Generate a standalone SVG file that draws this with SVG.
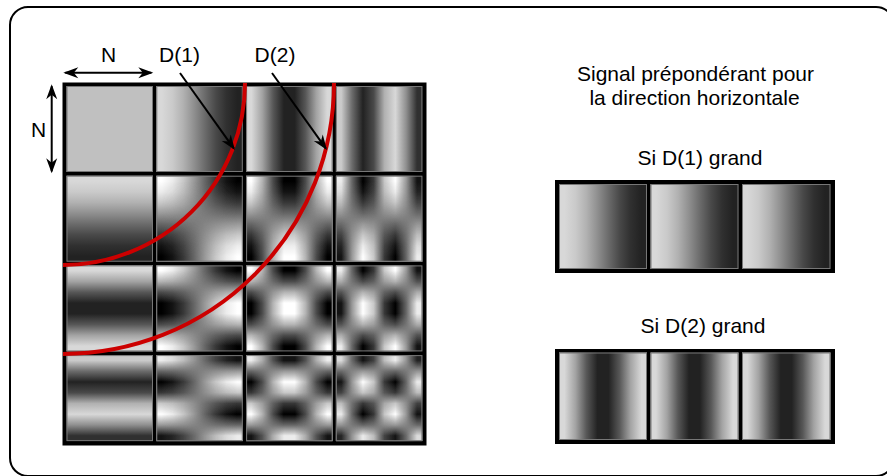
<svg xmlns="http://www.w3.org/2000/svg" width="887" height="476" viewBox="0 0 887 476">
<style>
text{font-family:"Liberation Sans",Arial,sans-serif;font-size:21px;fill:#000}
.lbl{text-anchor:middle}
.bg{fill:#000}
.rim{fill:none;stroke:#777;stroke-width:1}
.ex{mix-blend-mode:exclusion}
.iso{isolation:isolate}
.arc{fill:none;stroke:#cc0000;stroke-width:4}
.arr{fill:none;stroke:#000;stroke-width:2}
</style>
<defs>
<marker id="ah" markerUnits="userSpaceOnUse" viewBox="-16 -6 17 12" refX="-2" refY="0" markerWidth="17" markerHeight="12" orient="auto-start-reverse">
<path d="M0,0 L-15,-5.5 L-10.5,0 L-15,5.5 Z" fill="#000"/>
</marker>
<linearGradient id="h1" x1="0" y1="0" x2="1" y2="0">
<stop offset="0.0625" stop-color="rgb(216,216,216)"/><stop offset="0.1875" stop-color="rgb(202,202,202)"/><stop offset="0.3125" stop-color="rgb(177,177,177)"/><stop offset="0.4375" stop-color="rgb(143,143,143)"/><stop offset="0.5625" stop-color="rgb(107,107,107)"/><stop offset="0.6875" stop-color="rgb(73,73,73)"/><stop offset="0.8125" stop-color="rgb(48,48,48)"/><stop offset="0.9375" stop-color="rgb(34,34,34)"/>
</linearGradient>
<linearGradient id="h2" x1="0" y1="0" x2="1" y2="0">
<stop offset="0.0625" stop-color="rgb(216,216,216)"/><stop offset="0.1875" stop-color="rgb(163,163,163)"/><stop offset="0.3125" stop-color="rgb(87,87,87)"/><stop offset="0.4375" stop-color="rgb(34,34,34)"/><stop offset="0.5625" stop-color="rgb(34,34,34)"/><stop offset="0.6875" stop-color="rgb(87,87,87)"/><stop offset="0.8125" stop-color="rgb(163,163,163)"/><stop offset="0.9375" stop-color="rgb(216,216,216)"/>
</linearGradient>
<linearGradient id="h3" x1="0" y1="0" x2="1" y2="0">
<stop offset="0.0625" stop-color="rgb(202,202,202)"/><stop offset="0.1875" stop-color="rgb(107,107,107)"/><stop offset="0.3125" stop-color="rgb(34,34,34)"/><stop offset="0.4375" stop-color="rgb(73,73,73)"/><stop offset="0.5625" stop-color="rgb(177,177,177)"/><stop offset="0.6875" stop-color="rgb(216,216,216)"/><stop offset="0.8125" stop-color="rgb(143,143,143)"/><stop offset="0.9375" stop-color="rgb(48,48,48)"/>
</linearGradient>
<linearGradient id="v1" href="#h1" x1="0" y1="0" x2="0" y2="1"/>
<linearGradient id="v2" href="#h2" x1="0" y1="0" x2="0" y2="1"/>
<linearGradient id="v3" href="#h3" x1="0" y1="0" x2="0" y2="1"/>
<linearGradient id="f1" x1="0" y1="0" x2="1" y2="0">
<stop offset="0.0625" stop-color="rgb(255,255,255)"/><stop offset="0.1875" stop-color="rgb(236,236,236)"/><stop offset="0.3125" stop-color="rgb(200,200,200)"/><stop offset="0.4375" stop-color="rgb(153,153,153)"/><stop offset="0.5625" stop-color="rgb(102,102,102)"/><stop offset="0.6875" stop-color="rgb(55,55,55)"/><stop offset="0.8125" stop-color="rgb(19,19,19)"/><stop offset="0.9375" stop-color="rgb(0,0,0)"/>
</linearGradient>
<linearGradient id="f2" x1="0" y1="0" x2="1" y2="0">
<stop offset="0.0625" stop-color="rgb(255,255,255)"/><stop offset="0.1875" stop-color="rgb(180,180,180)"/><stop offset="0.3125" stop-color="rgb(75,75,75)"/><stop offset="0.4375" stop-color="rgb(0,0,0)"/><stop offset="0.5625" stop-color="rgb(0,0,0)"/><stop offset="0.6875" stop-color="rgb(75,75,75)"/><stop offset="0.8125" stop-color="rgb(180,180,180)"/><stop offset="0.9375" stop-color="rgb(255,255,255)"/>
</linearGradient>
<linearGradient id="f3" x1="0" y1="0" x2="1" y2="0">
<stop offset="0.0625" stop-color="rgb(236,236,236)"/><stop offset="0.1875" stop-color="rgb(102,102,102)"/><stop offset="0.3125" stop-color="rgb(0,0,0)"/><stop offset="0.4375" stop-color="rgb(55,55,55)"/><stop offset="0.5625" stop-color="rgb(200,200,200)"/><stop offset="0.6875" stop-color="rgb(255,255,255)"/><stop offset="0.8125" stop-color="rgb(153,153,153)"/><stop offset="0.9375" stop-color="rgb(19,19,19)"/>
</linearGradient>
<linearGradient id="i1" x1="0" y1="0" x2="0" y2="1">
<stop offset="0.0625" stop-color="rgb(0,0,0)"/><stop offset="0.1875" stop-color="rgb(19,19,19)"/><stop offset="0.3125" stop-color="rgb(55,55,55)"/><stop offset="0.4375" stop-color="rgb(102,102,102)"/><stop offset="0.5625" stop-color="rgb(153,153,153)"/><stop offset="0.6875" stop-color="rgb(200,200,200)"/><stop offset="0.8125" stop-color="rgb(236,236,236)"/><stop offset="0.9375" stop-color="rgb(255,255,255)"/>
</linearGradient>
<linearGradient id="i2" x1="0" y1="0" x2="0" y2="1">
<stop offset="0.0625" stop-color="rgb(0,0,0)"/><stop offset="0.1875" stop-color="rgb(75,75,75)"/><stop offset="0.3125" stop-color="rgb(180,180,180)"/><stop offset="0.4375" stop-color="rgb(255,255,255)"/><stop offset="0.5625" stop-color="rgb(255,255,255)"/><stop offset="0.6875" stop-color="rgb(180,180,180)"/><stop offset="0.8125" stop-color="rgb(75,75,75)"/><stop offset="0.9375" stop-color="rgb(0,0,0)"/>
</linearGradient>
<linearGradient id="i3" x1="0" y1="0" x2="0" y2="1">
<stop offset="0.0625" stop-color="rgb(19,19,19)"/><stop offset="0.1875" stop-color="rgb(153,153,153)"/><stop offset="0.3125" stop-color="rgb(255,255,255)"/><stop offset="0.4375" stop-color="rgb(200,200,200)"/><stop offset="0.5625" stop-color="rgb(55,55,55)"/><stop offset="0.6875" stop-color="rgb(0,0,0)"/><stop offset="0.8125" stop-color="rgb(102,102,102)"/><stop offset="0.9375" stop-color="rgb(236,236,236)"/>
</linearGradient>
</defs>

<rect id="frame" x="10" y="7" width="884" height="469" rx="18" ry="18" fill="#fff" stroke="#000" stroke-width="2"/>

<g id="basis-grid">
<rect class="bg" x="62.5" y="82.5" width="364" height="363"/>
<g id="cell-0-0"><rect x="66.5" y="86" width="86.5" height="86" fill="#c0c0c0"/><rect class="rim" x="67" y="86.5" width="85.5" height="85"/></g>
<g id="cell-0-1"><rect x="156.3" y="86" width="86.5" height="86" fill="url(#h1)"/><rect class="rim" x="156.8" y="86.5" width="85.5" height="85"/></g>
<g id="cell-0-2"><rect x="246.1" y="86" width="86.5" height="86" fill="url(#h2)"/><rect class="rim" x="246.6" y="86.5" width="85.5" height="85"/></g>
<g id="cell-0-3"><rect x="335.9" y="86" width="86.5" height="86" fill="url(#h3)"/><rect class="rim" x="336.4" y="86.5" width="85.5" height="85"/></g>

<g id="cell-1-0"><rect x="66.5" y="175.7" width="86.5" height="86" fill="url(#v1)"/><rect class="rim" x="67" y="176.2" width="85.5" height="85"/></g>
<g id="cell-1-1" class="iso"><rect x="156.3" y="175.7" width="86.5" height="86" fill="url(#f1)"/><rect class="ex" x="156.3" y="175.7" width="86.5" height="86" fill="url(#i1)"/><rect class="rim" x="156.8" y="176.2" width="85.5" height="85"/></g>
<g id="cell-1-2" class="iso"><rect x="246.1" y="175.7" width="86.5" height="86" fill="url(#f2)"/><rect class="ex" x="246.1" y="175.7" width="86.5" height="86" fill="url(#i1)"/><rect class="rim" x="246.6" y="176.2" width="85.5" height="85"/></g>
<g id="cell-1-3" class="iso"><rect x="335.9" y="175.7" width="86.5" height="86" fill="url(#f3)"/><rect class="ex" x="335.9" y="175.7" width="86.5" height="86" fill="url(#i1)"/><rect class="rim" x="336.4" y="176.2" width="85.5" height="85"/></g>

<g id="cell-2-0"><rect x="66.5" y="265.4" width="86.5" height="86" fill="url(#v2)"/><rect class="rim" x="67" y="265.9" width="85.5" height="85"/></g>
<g id="cell-2-1" class="iso"><rect x="156.3" y="265.4" width="86.5" height="86" fill="url(#f1)"/><rect class="ex" x="156.3" y="265.4" width="86.5" height="86" fill="url(#i2)"/><rect class="rim" x="156.8" y="265.9" width="85.5" height="85"/></g>
<g id="cell-2-2" class="iso"><rect x="246.1" y="265.4" width="86.5" height="86" fill="url(#f2)"/><rect class="ex" x="246.1" y="265.4" width="86.5" height="86" fill="url(#i2)"/><rect class="rim" x="246.6" y="265.9" width="85.5" height="85"/></g>
<g id="cell-2-3" class="iso"><rect x="335.9" y="265.4" width="86.5" height="86" fill="url(#f3)"/><rect class="ex" x="335.9" y="265.4" width="86.5" height="86" fill="url(#i2)"/><rect class="rim" x="336.4" y="265.9" width="85.5" height="85"/></g>

<g id="cell-3-0"><rect x="66.5" y="355.1" width="86.5" height="86" fill="url(#v3)"/><rect class="rim" x="67" y="355.6" width="85.5" height="85"/></g>
<g id="cell-3-1" class="iso"><rect x="156.3" y="355.1" width="86.5" height="86" fill="url(#f1)"/><rect class="ex" x="156.3" y="355.1" width="86.5" height="86" fill="url(#i3)"/><rect class="rim" x="156.8" y="355.6" width="85.5" height="85"/></g>
<g id="cell-3-2" class="iso"><rect x="246.1" y="355.1" width="86.5" height="86" fill="url(#f2)"/><rect class="ex" x="246.1" y="355.1" width="86.5" height="86" fill="url(#i3)"/><rect class="rim" x="246.6" y="355.6" width="85.5" height="85"/></g>
<g id="cell-3-3" class="iso"><rect x="335.9" y="355.1" width="86.5" height="86" fill="url(#f3)"/><rect class="ex" x="335.9" y="355.1" width="86.5" height="86" fill="url(#i3)"/><rect class="rim" x="336.4" y="355.6" width="85.5" height="85"/></g>
</g>

<g id="panel-d1">
<rect class="bg" x="555" y="180" width="280" height="93"/>
<rect x="559" y="184" width="88" height="85" fill="url(#h1)"/><rect class="rim" x="559.5" y="184.5" width="87" height="84"/>
<rect x="650.5" y="184" width="88" height="85" fill="url(#h1)"/><rect class="rim" x="651" y="184.5" width="87" height="84"/>
<rect x="742" y="184" width="88.5" height="85" fill="url(#h1)"/><rect class="rim" x="742.5" y="184.5" width="87.5" height="84"/>
</g>
<g id="panel-d2">
<rect class="bg" x="555" y="349" width="280" height="95"/>
<rect x="559" y="352.5" width="88" height="87.5" fill="url(#h2)"/><rect class="rim" x="559.5" y="353" width="87" height="86.5"/>
<rect x="650.5" y="352.5" width="88" height="87.5" fill="url(#h2)"/><rect class="rim" x="651" y="353" width="87" height="86.5"/>
<rect x="742" y="352.5" width="88.5" height="87.5" fill="url(#h2)"/><rect class="rim" x="742.5" y="353" width="87.5" height="86.5"/>
</g>

<g id="connectors">
<path id="arc-d1" class="arc" d="M63,265 A182,182 0 0 0 245,83"/>
<path id="arc-d2" class="arc" d="M63,354 A271,271 0 0 0 334,83"/>
<line id="arrow-n-h" class="arr" x1="65.3" y1="72.7" x2="151.3" y2="72.7" marker-start="url(#ah)" marker-end="url(#ah)"/>
<line id="arrow-n-v" class="arr" x1="51.7" y1="86.3" x2="51.7" y2="171.3" marker-start="url(#ah)" marker-end="url(#ah)"/>
<line id="arrow-d1" class="arr" x1="180" y1="73" x2="233.8" y2="148.4" marker-end="url(#ah)"/>
<line id="arrow-d2" class="arr" x1="272" y1="73" x2="325.8" y2="148.4" marker-end="url(#ah)"/>
</g>

<g id="label-n-h"><text class="lbl" x="108.5" y="62">N</text></g>
<g id="label-n-v"><text class="lbl" x="38.5" y="137">N</text></g>
<g id="label-d1"><text class="lbl" x="179.5" y="62">D(1)</text></g>
<g id="label-d2"><text class="lbl" x="275" y="62">D(2)</text></g>
<g id="title"><text class="lbl" x="695.5" y="80.5">Signal prépondérant pour</text><text class="lbl" x="694.5" y="105">la direction horizontale</text></g>
<g id="label-si-d1"><text class="lbl" x="700" y="165">Si D(1) grand</text></g>
<g id="label-si-d2"><text class="lbl" x="703" y="333">Si D(2) grand</text></g>
</svg>
